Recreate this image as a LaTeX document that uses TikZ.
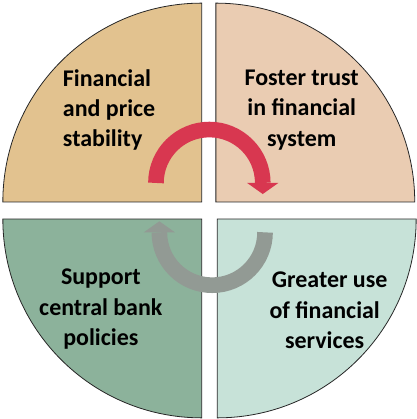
\documentclass[tikz,border=0pt]{standalone}
\usepackage{fontspec}
\setmainfont{Carlito}
\usepackage{tikz}
\usetikzlibrary{positioning,arrows.meta}

\definecolor{stabfill}{HTML}{E2C28F}
\definecolor{trustfill}{HTML}{EACCB2}
\definecolor{policyfill}{HTML}{8CB29B}
\definecolor{usefill}{HTML}{C7E2D8}
\definecolor{cyclered}{HTML}{D83750}
\definecolor{cyclegrey}{HTML}{929A94}

\tikzset{
	quad/.style={draw=black!85, line width=0.8pt},
	label/.style={inner sep=0pt, align=center, font=\bfseries\fontsize{24}{30.5}\selectfont},
	cycle arrow/.style={line width=0.55cm, -{Triangle[width=1.1cm, length=0.39cm, line width=0pt]}}
}

\begin{document}
\begin{tikzpicture}
	\useasboundingbox (-7.35,-7.34) rectangle (7.32,7.41);
	% the four quarters
	\path [quad, fill=stabfill] (-0.25,0.3) -- (-7.25,0.3) arc (180:90:7) -- cycle;
	\path [quad, fill=trustfill] (0.25,0.3) -- (0.25,7.3) arc (90:0:7) -- cycle;
	\path [quad, fill=policyfill] (-0.25,-0.3) -- (-0.25,-7.3) arc (270:180:7) -- cycle;
	\path [quad, fill=usefill] (0.3,-0.3) -- (7.3,-0.3) arc (0:-90:7) -- cycle;

	\node [label, align=left, anchor=west] (stab) at (-5.14, 3.54) {Financial\\and price\\stability};
	\node [label] (trust) at (3.27, 3.54) {Foster trust\\in financial\\system};
	\node [label] (policy) at (-3.80, -3.47) {Support\\central bank\\policies};
	\node [label] (use) at (4.08, -3.52) {\hspace*{0.35cm}Greater use\\of financial\\services};

	% arrows round the middle
	\coordinate (redstart) at (-1.86, 0.97);
	\coordinate (greystart) at (1.98, -0.77);
	\draw [cycle arrow, cyclered] (redstart) arc (180:0:1.88) -- ++(0,-0.39);
	\draw [cycle arrow, cyclegrey] (greystart) arc (0:-180:1.86) -- ++(0,0.39);
\end{tikzpicture}
\end{document}
